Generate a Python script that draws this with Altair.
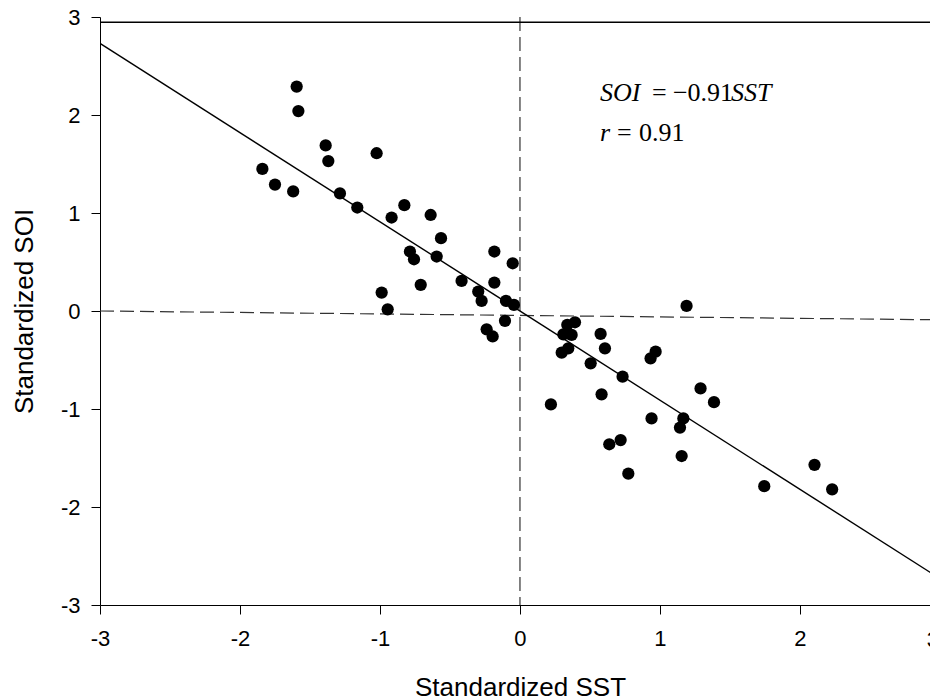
import altair as alt
import pandas as pd

# Scatter data (standardized SST vs SOI)
sst = [-1.84, -1.75, -1.62, -1.595, -1.583, -1.388, -1.369, -1.286, -1.162, -1.024,
       -0.988, -0.945, -0.917, -0.826, -0.786, -0.757, -0.709, -0.638, -0.595, -0.564,
       -0.417, -0.298, -0.274, -0.238, -0.195, -0.183, -0.183, -0.107, -0.100, -0.052,
       -0.043, 0.221, 0.298, 0.310, 0.338, 0.345, 0.369, 0.393, 0.505, 0.576,
       0.583, 0.607, 0.638, 0.719, 0.733, 0.774, 0.933, 0.940, 0.969, 1.143,
       1.155, 1.167, 1.190, 1.290, 1.386, 1.745, 2.104, 2.230]
soi = [1.45, 1.29, 1.22, 2.29, 2.04, 1.69, 1.53, 1.20, 1.056, 1.61,
       0.188, 0.017, 0.954, 1.08, 0.607, 0.528, 0.267, 0.98, 0.556, 0.743,
       0.307, 0.198, 0.103, -0.187, -0.26, 0.607, 0.29, -0.10, 0.103, 0.487,
       0.062, -0.953, -0.425, -0.238, -0.142, -0.381, -0.244, -0.115, -0.534, -0.234,
       -0.85, -0.381, -1.36, -1.317, -0.67, -1.66, -0.483, -1.096, -0.415, -1.19,
       -1.48, -1.096, 0.052, -0.79, -0.93, -1.787, -1.57, -1.82]

ticks = [-3, -2, -1, 0, 1, 2, 3]
edge_tick = [3]          # the x label that sits on the cut-off right edge
slope = -0.91

# Reference lines
solid_x = [-3, 3, -3, 3]
solid_y = [2.946, 2.946, -3 * slope, 3 * slope]
solid_g = ["frame", "frame", "fit", "fit"]
dash_x = [-3, 3, 0, 0]
dash_y = [0.0, -0.09, 3, -3]
dash_g = ["h", "h", "v", "v"]

# Annotation anchor (data coordinates)
ann_x = [0.571]
ann_y = [2.146, 1.730]

pts = pd.DataFrame({"SST": sst, "SOI": soi})
solid_df = pd.DataFrame({"x": solid_x, "y": solid_y, "g": solid_g})
dash_df = pd.DataFrame({"x": dash_x, "y": dash_y, "g": dash_g})
ann1 = pd.DataFrame({"x": ann_x, "y": [ann_y[0]]})
ann2 = pd.DataFrame({"x": ann_x, "y": [ann_y[1]]})
edge_df = pd.DataFrame({"x": edge_tick, "y": [-3]})

lab = "Liberation Sans"
serif = "Liberation Serif"
label_expr = "datum.value < 0 ? '-' + abs(datum.value) : '' + datum.value"

# the picture is cut off just before x = 3
xscale = alt.Scale(domain=[-3, 2.929], nice=False, zero=False)
yscale = alt.Scale(domain=[-3, 3], nice=False, zero=False)

xaxis = alt.Axis(values=ticks, grid=False, tickSize=9, labelPadding=14,
                 labelFontSize=22, labelFont=lab, labelColor="black",
                 domainColor="black", tickColor="black", labelExpr=label_expr,
                 title="Standardized SST", titleFont=lab, titleFontSize=26,
                 titleFontWeight="normal", titleColor="black",
                 titleX=420, titleY=90, titleAlign="center",
                 titleBaseline="alphabetic", labelFlush=False, labelOverlap=False)
yaxis = alt.Axis(values=ticks, grid=False, tickSize=9, labelPadding=11,
                 labelFontSize=22, labelFont=lab, labelColor="black",
                 domainColor="black", tickColor="black", labelExpr=label_expr,
                 title="Standardized SOI", titleFont=lab, titleFontSize=26,
                 titleFontWeight="normal", titleColor="black",
                 titleAngle=270, titleX=-67.7, titleY=294, titleAlign="center",
                 titleBaseline="alphabetic", labelFlush=False, labelOverlap=False)

solid = alt.Chart(solid_df).mark_line(color="black", strokeWidth=1.4, clip=True).encode(
    x=alt.X("x:Q", scale=xscale, axis=xaxis),
    y=alt.Y("y:Q", scale=yscale, axis=yaxis),
    detail="g:N",
)
dashed = alt.Chart(dash_df).mark_line(color="#333333", strokeWidth=1.2,
                                      strokeDash=[14, 6], clip=True).encode(
    x=alt.X("x:Q", scale=xscale),
    y=alt.Y("y:Q", scale=yscale),
    detail="g:N",
)
points = alt.Chart(pts).mark_circle(color="black", size=150, opacity=1).encode(
    x=alt.X("SST:Q", scale=xscale),
    y=alt.Y("SOI:Q", scale=yscale),
)
# cut-off "3" label at the right edge of the picture
edge_label = alt.Chart(edge_df).mark_text(
    font=lab, fontSize=22, color="black", align="center", baseline="top",
    dx=-7, dy=24.5, clip=False,
).encode(
    x=alt.X("x:Q", scale=xscale), y=alt.Y("y:Q", scale=yscale),
    text=alt.Text("x:Q"),
)

def seg(df, text, dx, italic):
    kw = dict(align="left", baseline="alphabetic", font=serif, fontSize=26,
              color="black", dx=dx, text=text)
    if italic:
        kw["fontStyle"] = "italic"
    return alt.Chart(df).mark_text(**kw).encode(
        x=alt.X("x:Q", scale=xscale), y=alt.Y("y:Q", scale=yscale))

texts = [
    seg(ann1, "SOI", 0, True),
    seg(ann1, "=", 52, False),
    seg(ann1, "\u22120.91", 73, False),
    seg(ann1, "SST", 131, True),
    seg(ann2, "r", 0, True),
    seg(ann2, "=", 17, False),
    seg(ann2, "0.91", 39, False),
]

chart = alt.layer(dashed, solid, points, edge_label, *texts).properties(
    width=830, height=588,
    autosize=alt.AutoSizeParams(type="none"),
    padding={"left": 92, "top": 9, "right": 0, "bottom": 98},
    background="white",
).configure_view(strokeWidth=0)

chart.save("out.html", embed_options={"renderer": "svg", "actions": False})
